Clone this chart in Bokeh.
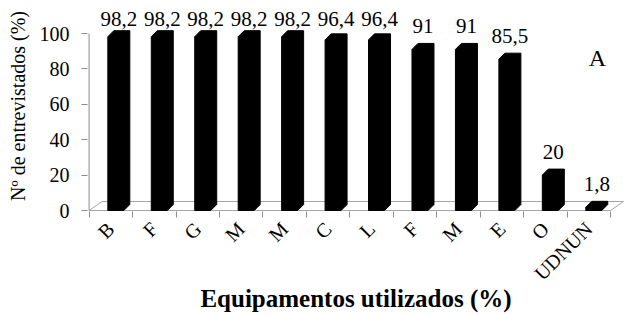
import numpy as np
from bokeh.plotting import figure
from bokeh.models import FixedTicker, Label, ColumnDataSource, Range1d
from bokeh.core.properties import value
from bokeh.embed import file_html
from bokeh.resources import INLINE

# ---- data ----
categories = ["B", "F", "G", "M", "M", "C", "L", "F", "M", "E", "O", "UDNUN"]
values = [98.2, 98.2, 98.2, 98.2, 98.2, 96.4, 96.4, 91, 91, 85.5, 20, 1.8]
value_labels = ["98,2", "98,2", "98,2", "98,2", "98,2", "96,4", "96,4",
                "91", "91", "85,5", "20", "1,8"]
y_ticks = [0, 20, 40, 60, 80, 100]
x_title = "Equipamentos utilizados (%)"
y_title = "Nº de entrevistados (%)"
panel_letter = "A"

# ---- geometry (pixel scale) ----
PX_X = 43.45   # px per category
PX_Y = 1.77    # px per percent
FONT = "Liberation Serif"
GRAY = "#8c8c8c"
FLOOR = "#a6a6a6"

n = len(categories)
idx = np.arange(n)

x0 = -0.5 - 1.6 / PX_X
y0 = -1 / PX_Y
p = figure(width=624, height=316, output_backend="svg", toolbar_location=None,
           x_range=Range1d(x0, x0 + 537 / PX_X),
           y_range=Range1d(y0, y0 + 211 / PX_Y),
           min_border_left=87, min_border_right=0, min_border_top=0,
           min_border_bottom=105)
p.outline_line_color = None
p.grid.visible = False
p.background_fill_color = "white"
p.border_fill_color = "white"

# floor (3D base)
fdx = 13 / PX_X
fdy = 9 / PX_Y
p.patch([-0.5, n - 0.5, n - 0.5 + fdx, -0.5 + fdx], [0, 0, fdy, fdy],
        fill_color="white", line_color=FLOOR, line_width=1)

# y axis line
p.segment(x0=[-0.5], y0=[0], x1=[-0.5], y1=[max(y_ticks)], line_color=GRAY, line_width=1)

# 3D bars
bdx = 6 / PX_X
bdy = 6 / PX_Y
L = idx - 3 / PX_X
R = idx + 13 / PX_X
xs, ys = [], []
for l, r, v in zip(L, R, values):
    xs.append([l, r, r + bdx, r + bdx, l + bdx, l])
    ys.append([0, 0, bdy, v + bdy, v + bdy, v])
p.patches(xs, ys, fill_color="black", line_color="black", line_width=1)

# value labels
lab_src = ColumnDataSource(dict(
    x=idx + 8 / PX_X,
    y=np.minimum(np.array(values) + 13, 108),
    t=value_labels))
p.text(x="x", y="y", text="t", source=lab_src, text_align="center",
       text_baseline="alphabetic", text_font=value(FONT), text_font_size="21px",
       text_color="black")

# axes
xa = p.xaxis[0]
xa.ticker = FixedTicker(ticks=list(range(n)), minor_ticks=[k - 0.5 for k in range(n + 1)])
xa.major_label_overrides = {i: c for i, c in enumerate(categories)}
xa.axis_line_color = None
xa.major_tick_line_color = None
xa.major_tick_out = 0
xa.major_tick_in = 0
xa.minor_tick_line_color = GRAY
xa.minor_tick_out = 6
xa.minor_tick_in = 0
xa.major_label_orientation = np.pi / 4
xa.major_label_standoff = 8
xa.major_label_text_font = FONT
xa.major_label_text_font_size = "20px"
xa.major_label_text_color = "black"
xa.axis_label = x_title
xa.axis_label_text_font = FONT
xa.axis_label_text_font_style = "bold"
xa.axis_label_text_font_size = "25px"
xa.axis_label_text_color = "black"
xa.axis_label_standoff = -10

ya = p.yaxis[0]
ya.ticker = FixedTicker(ticks=y_ticks, minor_ticks=[])
ya.axis_line_color = None
ya.major_tick_line_color = GRAY
ya.major_tick_out = 6
ya.major_tick_in = 0
ya.minor_tick_line_color = None
ya.major_label_standoff = 12
ya.major_label_text_font = FONT
ya.major_label_text_font_size = "20px"
ya.major_label_text_color = "black"
ya.axis_label = y_title
ya.axis_label_text_font = FONT
ya.axis_label_text_font_style = "normal"
ya.axis_label_text_font_size = "20px"
ya.axis_label_text_color = "black"
ya.axis_label_standoff = 8

# panel letter
p.add_layout(Label(x=11.2, y=153 / PX_Y, text=panel_letter, text_align="center",
                   text_baseline="alphabetic", text_font=FONT, text_font_size="24px",
                   text_color="black"))

open("out.html", "w").write(file_html(p, INLINE))
